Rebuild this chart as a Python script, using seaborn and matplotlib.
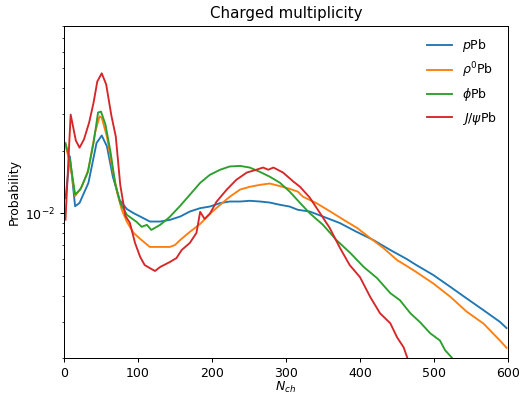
import numpy as np
import pandas as pd
import seaborn as sns
import matplotlib
matplotlib.use("Agg")
import matplotlib.pyplot as plt

# Values (log-scale y)
n_p = [2, 8, 15, 21, 33, 44, 51, 58, 66, 75, 85, 94, 103, 116, 130, 143, 157, 170, 184, 197,
       211, 224, 238, 251, 265, 278, 292, 305, 316, 332, 350, 373, 395, 418, 441, 463, 476,
       499, 522, 544, 567, 589, 598]
prob_p = [0.0118, 0.0188, 0.0108, 0.0112, 0.0140, 0.0218, 0.0237, 0.0210, 0.0150, 0.0116,
          0.01046, 0.0100, 0.00963, 0.00911, 0.00911, 0.00928, 0.00963, 0.01018, 0.01057,
          0.01076, 0.01118, 0.01138, 0.01138, 0.01147, 0.01138, 0.01125, 0.01097, 0.01076,
          0.01038, 0.01018, 0.00963, 0.00895, 0.00814, 0.00742, 0.00664, 0.00601, 0.00562,
          0.00503, 0.00441, 0.00388, 0.00340, 0.00299, 0.00279]

n_rho = [2, 8, 15, 24, 33, 42, 48, 51, 58, 65, 72, 78, 85, 94, 103, 116, 130, 143, 150, 157,
         170, 184, 197, 211, 224, 238, 251, 265, 278, 292, 305, 316, 323, 341, 360, 378, 396,
         414, 432, 450, 466, 476, 499, 522, 544, 567, 589, 598]
prob_rho = [0.0212, 0.0175, 0.0121, 0.0134, 0.0162, 0.0245, 0.0293, 0.0289, 0.0234, 0.0168,
            0.0125, 0.0104, 0.00908, 0.00803, 0.00751, 0.00687, 0.00687, 0.00687, 0.00702,
            0.00742, 0.00812, 0.00887, 0.00992, 0.01097, 0.0120, 0.0130, 0.0134, 0.0137,
            0.0139, 0.0135, 0.0131, 0.0127, 0.0120, 0.01118, 0.01018, 0.00928, 0.00849,
            0.00757, 0.00677, 0.00594, 0.00548, 0.00520, 0.00458, 0.00395, 0.00335, 0.00293,
            0.00243, 0.00224]

n_phi = [2, 8, 15, 22, 32, 40, 46, 50, 56, 63, 69, 76, 85, 98, 105, 112, 118, 130, 143, 157,
         170, 184, 197, 211, 224, 238, 251, 265, 278, 292, 305, 319, 332, 350, 368, 387, 405,
         423, 441, 454, 468, 481, 495, 508, 515, 524]
prob_phi = [0.0218, 0.0181, 0.0123, 0.0130, 0.0157, 0.0219, 0.0306, 0.0309, 0.0268, 0.0196,
            0.0140, 0.0112, 0.00981, 0.00908, 0.00859, 0.00878, 0.00830, 0.00878, 0.00960,
            0.01085, 0.01226, 0.0140, 0.0153, 0.0162, 0.0168, 0.0169, 0.0166, 0.0158, 0.0150,
            0.0140, 0.0127, 0.0112, 0.0100, 0.00878, 0.00742, 0.00642, 0.00550, 0.00486,
            0.00411, 0.00380, 0.00329, 0.00298, 0.00263, 0.00243, 0.00218, 0.00201]

n_jpsi = [2, 9, 16, 21, 27, 34, 40, 45, 51, 57, 64, 70, 76, 83, 89, 96, 103, 109, 116, 123,
          130, 143, 152, 159, 170, 179, 184, 190, 197, 206, 220, 233, 247, 260, 269, 276, 283,
          296, 310, 319, 332, 346, 359, 373, 386, 400, 414, 427, 441, 450, 459, 466]
prob_jpsi = [0.0093, 0.0299, 0.0224, 0.0207, 0.0227, 0.0274, 0.0342, 0.0432, 0.0473, 0.0418,
             0.0296, 0.0234, 0.0137, 0.0097, 0.00898, 0.00718, 0.00614, 0.00562, 0.00543,
             0.00526, 0.00550, 0.00581, 0.00607, 0.00664, 0.00718, 0.00803, 0.01015, 0.00938,
             0.00992, 0.01134, 0.0130, 0.0145, 0.0157, 0.0162, 0.0166, 0.0162, 0.0166, 0.0157,
             0.0142, 0.0134, 0.0119, 0.0100, 0.00849, 0.00679, 0.00562, 0.00491, 0.00393,
             0.00329, 0.00294, 0.00252, 0.00225, 0.00191]

labels = [r"$p$Pb", r"$\rho^0$Pb", r"$\phi$Pb", r"$J/\psi$Pb"]

frames = []
for lab, n, p in zip(labels, [n_p, n_rho, n_phi, n_jpsi],
                     [prob_p, prob_rho, prob_phi, prob_jpsi]):
    frames.append(pd.DataFrame({"N": n, "prob": p, "sample": lab}))
df = pd.concat(frames, ignore_index=True)

fig = plt.figure(figsize=(524 / 90, 395 / 90), dpi=90)
ax = fig.add_axes([64 / 524, 1 - 358 / 395, 444 / 524, 332 / 395])

sns.lineplot(data=df, x="N", y="prob", hue="sample", hue_order=labels,
             palette=sns.color_palette("tab10", 4), linewidth=1.5, ax=ax)

ax.set_yscale("log")
ax.set_xlim(0, 600)
ax.set_ylim(0.002, 0.08)
ax.set_title("Charged multiplicity")
ax.set_xlabel(r"$N_{ch}$", labelpad=0)
ax.set_ylabel("Probability")
sns.move_legend(ax, "upper right", frameon=False, title=None)

fig.savefig("out.png", dpi=90)
